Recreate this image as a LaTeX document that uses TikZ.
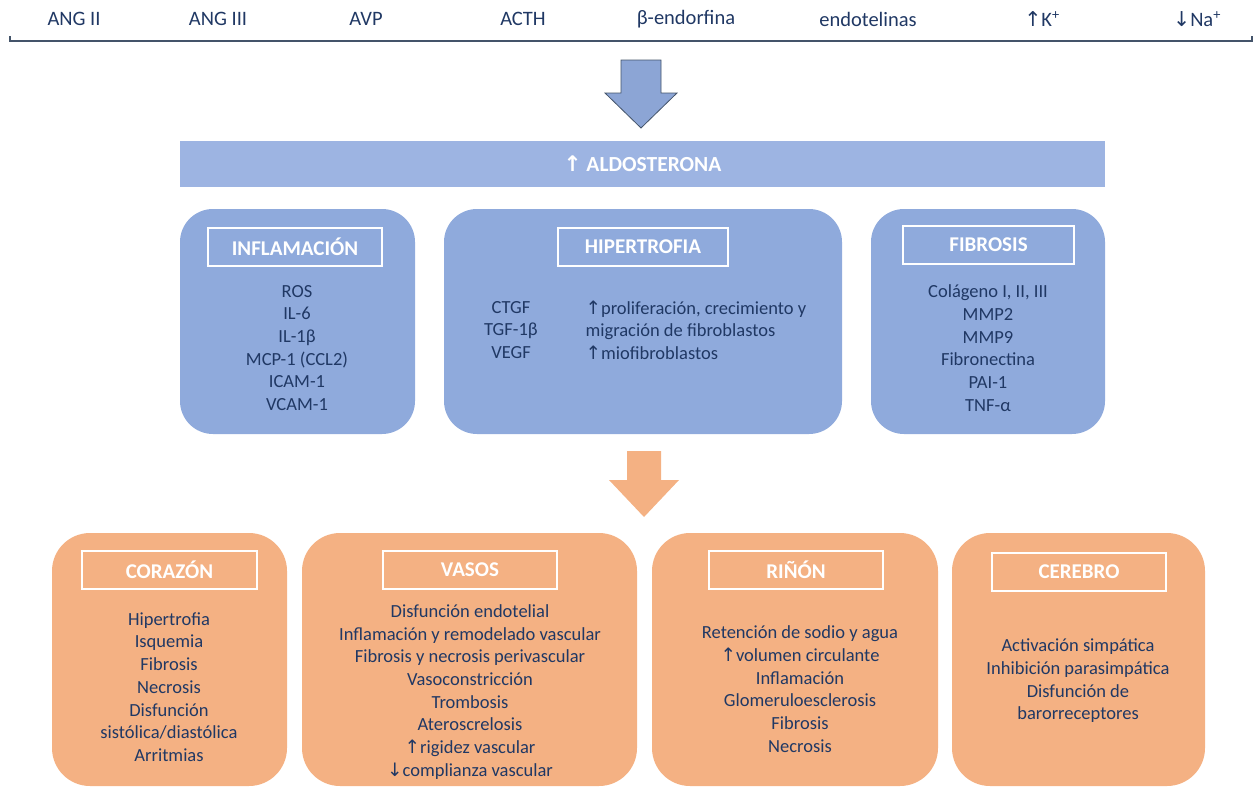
\documentclass[tikz,border=0pt]{standalone}
\usepackage{fontspec}
\setmainfont{Carlito}
\newfontfamily\symfont{DejaVu Sans}
\usetikzlibrary{positioning}

\definecolor{navy}{HTML}{203864}
\definecolor{boxblue}{HTML}{8FAADC}
\definecolor{barblue}{HTML}{9DB4E2}
\definecolor{arrowblue}{HTML}{8CA5D5}
\definecolor{boxorange}{HTML}{F4B183}
\definecolor{linegray}{HTML}{44546A}

\newcommand{\upar}{{\symfont\char"2191}}
\newcommand{\dnar}{{\symfont\char"2193}}

\begin{document}
\begin{tikzpicture}[x=1pt, y=-1pt, every node/.style={text=navy, font=\fontsize{18.5}{22.7}\selectfont}]
    \tikzstyle{bluebox}=[fill=boxblue, rounded corners=33pt, minimum height=225pt]
    \tikzstyle{orangebox}=[fill=boxorange, rounded corners=38pt, minimum height=253pt]
    \tikzstyle{header}=[draw=white, line width=2pt, minimum width=174pt, minimum height=38pt, text=white, font=\fontsize{21}{24}\selectfont\bfseries]
    \tikzstyle{listing}=[align=center]
    \tikzstyle{toplabel}=[font=\fontsize{20.5}{24}\selectfont]

    \useasboundingbox (0,0) rectangle (1260,787);

    % Triggers
    \foreach \x/\t in {74/ANG II, 218/ANG III, 366/AVP, 523/ACTH, 686/β-endorfina, 868/endotelinas, 1042/\upar K\textsuperscript{+}, 1197/\dnar Na\textsuperscript{+}}
        \node[toplabel] (top-\x) at (\x,19) {\t};
    \draw[linegray, line width=2pt] (10,36) -- (10,41) -- (1252,41) -- (1252,36);

    % Arrow to aldosterone
    \draw[fill=arrowblue, draw=linegray, line width=0.8pt]
        (621,60) -- (661,60) -- (661,93) -- (677,93) -- (641,128) -- (605,93) -- (621,93) -- cycle;

    % Aldosterone bar
    \node[fill=barblue, minimum width=925pt, minimum height=46pt, text=white, font=\fontsize{21.5}{24}\selectfont\bfseries] (aldo) at (642.5,164) {\upar\ ALDOSTERONA};

    % Mechanisms
    \node[bluebox, minimum width=235pt] (infl) at (297.5,321.5) {};
    \node[bluebox, minimum width=398pt] (hiper) at (643,321.5) {};
    \node[bluebox, minimum width=234pt] (fibro) at (988,321.5) {};

    \node[header] (infl-h) at (295,247) {INFLAMACIÓN};
    \node[header, minimum width=170pt] (hiper-h) at (643,247) {HIPERTROFIA};
    \node[header, minimum width=171pt] (fibro-h) at (988.5,244.5) {FIBROSIS};

    \node[listing] (infl-l) at (297,348) {ROS\\IL-6\\IL-1β\\MCP-1 (CCL2)\\ICAM-1\\VCAM-1};
    \node[listing] (hiper-l) at (511,330) {CTGF\\TGF-1β\\VEGF};
    \node[align=left, anchor=west] (hiper-r) at (582,330) {\upar proliferación, crecimiento y\\migración de fibroblastos\\\upar miofibroblastos};
    \node[listing] (fibro-l) at (988,348) {Colágeno I, II, III\\MMP2\\MMP9\\Fibronectina\\PAI-1\\TNF-α};

    % Arrow to target organs
    \fill[boxorange]
        (627,451) -- (661,451) -- (661,480) -- (679,480) -- (644,517) -- (609,480) -- (627,480) -- cycle;

    % Target organs
    \node[orangebox, minimum width=235pt] (cor) at (169.5,659.5) {};
    \node[orangebox, minimum width=335pt] (vas) at (469.5,659.5) {};
    \node[orangebox, minimum width=286pt] (rin) at (795,659.5) {};
    \node[orangebox, minimum width=253pt] (cer) at (1078.5,659.5) {};

    \node[header, minimum width=175pt] (cor-h) at (169.5,570) {CORAZÓN};
    \node[header] (vas-h) at (470,570) {VASOS};
    \node[header] (rin-h) at (796,570) {RIÑÓN};
    \node[header] (cer-h) at (1079,571.5) {CEREBRO};

    \node[listing] (cor-l) at (169,687) {Hipertrofia\\Isquemia\\Fibrosis\\Necrosis\\Disfunción\\sistólica/diastólica\\Arritmias};
    \node[listing] (vas-l) at (470,692) {Disfunción endotelial\\Inflamación y remodelado vascular\\Fibrosis y necrosis perivascular\\Vasoconstricción\\Trombosis\\Ateroscrelosis\\\upar rigidez vascular\\\dnar complianza vascular};
    \node[listing] (rin-l) at (800,689) {Retención de sodio y agua\\\upar volumen circulante\\Inflamación\\Glomeruloesclerosis\\Fibrosis\\Necrosis};
    \node[listing] (cer-l) at (1078,681) {Activación simpática\\Inhibición parasimpática\\Disfunción de\\barorreceptores};
\end{tikzpicture}
\end{document}
